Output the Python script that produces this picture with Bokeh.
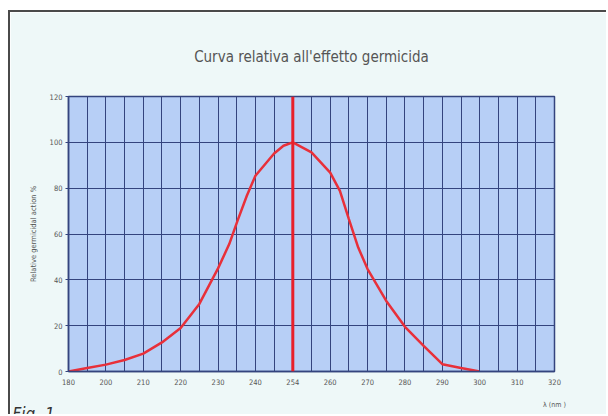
from bokeh.plotting import figure
from bokeh.models import FixedTicker, Span, Title
from bokeh.embed import file_html
from bokeh.resources import INLINE

# --- data ---------------------------------------------------------------
wavelength_labels = ["180", "200", "210", "220", "230", "240", "254",
                     "260", "270", "280", "290", "300", "310", "320"]
label_positions = list(range(len(wavelength_labels)))   # evenly spaced axis slots
peak_position = 6                                        # the "254" slot

curve_pos = [0, 0.5, 1, 1.5, 2, 2.5, 3, 3.5, 4, 4.3, 4.52, 4.77, 5, 5.5, 5.75, 6,
             6.5, 7, 7.26, 7.5, 7.75, 8, 8.5, 9, 9.5, 10, 10.5, 11]
curve_val = [0, 1.5, 3, 5, 7.8, 12.7, 19, 29.5, 45, 55.6, 65.7, 76.7, 85.4, 95.1, 98.5, 100,
             95.6, 86.8, 78.8, 66.5, 54.1, 44.7, 30.8, 19.5, 11.2, 3.2, 1.5, 0]

y_ticks = [0, 20, 40, 60, 80, 100, 120]
v_grid = [i * 0.5 for i in range(27)]

FONT = "DejaVu Sans Condensed"
GRID = "#34447e"

p = figure(width=598, height=404, x_range=(0, 13), y_range=(0, 120),
           output_backend="svg", toolbar_location=None,
           min_border_left=58, min_border_right=54,
           min_border_top=84, min_border_bottom=45,
           background_fill_color="#b7cff6", border_fill_color="#eef8f8")
p.styles = {"border-top": "2px solid #4a4a4a", "border-left": "2px solid #4a4a4a",
            "margin-top": "10px", "margin-left": "8px"}

p.title = Title(text="Curva relativa all'effetto germicida", align="center",
                text_font=FONT, text_font_size="15px", text_font_style="normal",
                text_color="#555555", standoff=62)

p.outline_line_color = GRID
p.outline_line_width = 1.5

p.xgrid.ticker = FixedTicker(ticks=v_grid)
p.ygrid.ticker = FixedTicker(ticks=y_ticks)
for g in (p.xgrid, p.ygrid):
    g.grid_line_color = GRID
    g.grid_line_width = 1
    g.grid_line_alpha = 1

p.xaxis.ticker = FixedTicker(ticks=label_positions)
p.xaxis.major_label_overrides = {i: t for i, t in zip(label_positions, wavelength_labels)}
p.yaxis.ticker = FixedTicker(ticks=y_ticks)

for ax in (p.xaxis, p.yaxis):
    ax.axis_line_color = GRID
    ax.axis_line_width = 1.5
    ax.major_tick_line_color = GRID
    ax.minor_tick_line_color = None
    ax.major_label_text_font = FONT
    ax.major_label_text_font_size = "7.5px"
    ax.major_label_text_color = "#555555"

p.xaxis.major_tick_in = 3
p.xaxis.major_tick_out = 0
p.xaxis.major_label_standoff = 7
p.yaxis.major_tick_in = 0
p.yaxis.major_tick_out = 3
p.yaxis.major_label_standoff = 3

p.yaxis.axis_label = "Relative germicidal action %"
p.yaxis.axis_label_text_font = FONT
p.yaxis.axis_label_text_font_size = "7.5px"
p.yaxis.axis_label_text_font_style = "normal"
p.yaxis.axis_label_text_color = "#555555"
p.yaxis.axis_label_standoff = 9

p.xaxis.axis_label = "λ (nm )"
p.xaxis.axis_label_align = "end"
p.xaxis.axis_label_text_font = FONT
p.xaxis.axis_label_text_font_size = "7px"
p.xaxis.axis_label_text_font_style = "normal"
p.xaxis.axis_label_text_color = "#555555"
p.xaxis.axis_label_standoff = 13

p.line(curve_pos, curve_val, line_color="#e8303a", line_width=2.5)
p.add_layout(Span(location=peak_position, dimension="height",
                  line_color="#e8202a", line_width=3))

p.add_layout(Title(text="Fig. 1", align="left", offset=-56, standoff=-24,
                   text_font=FONT, text_font_size="17px", text_font_style="italic",
                   text_color="#333333"), "below")

open("out.html", "w").write(file_html(p, INLINE))
